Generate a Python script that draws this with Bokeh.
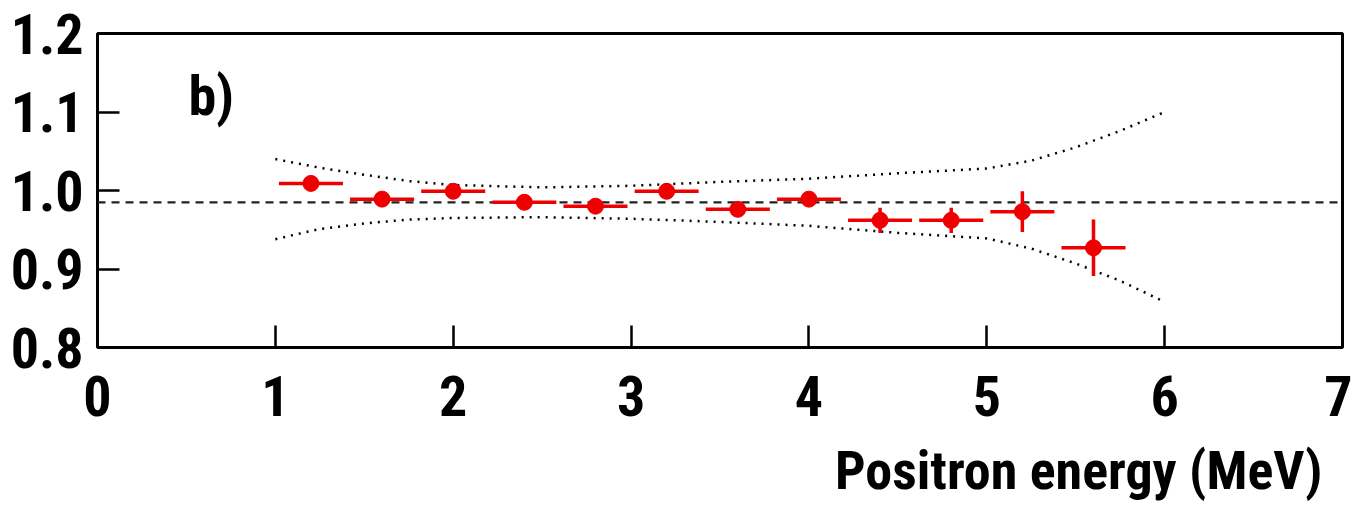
from bokeh.plotting import figure
from bokeh.models import Range1d, FixedTicker, PrintfTickFormatter, Label, Title
from bokeh.embed import file_html
from bokeh.resources import INLINE

# ---- data ----
energy = [1.2, 1.6, 2.0, 2.4, 2.8, 3.2, 3.6, 4.0, 4.4, 4.8, 5.2, 5.6]
ratio = [1.009, 0.989, 0.999, 0.985, 0.980, 0.999, 0.976, 0.989, 0.962, 0.962, 0.973, 0.927]
ratio_err = [0.006, 0.005, 0.005, 0.005, 0.006, 0.006, 0.007, 0.008, 0.016, 0.016, 0.026, 0.036]
bin_half = [0.18] * 12

band_x = [1.0, 1.25, 1.5, 1.75, 2.0, 2.5, 3.0, 3.5, 4.0, 4.5, 5.0, 5.25, 5.5, 5.75, 6.0]
band_upper = [1.040, 1.029, 1.020, 1.012, 1.007, 1.004, 1.006, 1.011, 1.015, 1.022, 1.028, 1.038, 1.055, 1.076, 1.100]
band_lower = [0.938, 0.951, 0.958, 0.963, 0.965, 0.966, 0.964, 0.960, 0.955, 0.946, 0.939, 0.926, 0.907, 0.885, 0.858]

ref_x = [0.0, 7.0]
ref_y = [0.985, 0.985]

x_ticks = [0, 1, 2, 3, 4, 5, 6, 7]
y_ticks = [0.8, 0.9, 1.0, 1.1, 1.2]
x_title = "Positron energy (MeV)"
panel_tag = "b)"

FONT = "Roboto Condensed"
RED = "#ee0000"

p = figure(width=1352, height=510, output_backend="svg", toolbar_location=None,
           x_range=Range1d(0, 7), y_range=Range1d(0.8, 1.2),
           frame_width=1245, frame_height=314,
           min_border_left=97, min_border_right=10, min_border_top=33, min_border_bottom=163)
p.grid.visible = False
p.background_fill_color = "white"
p.border_fill_color = "white"
p.outline_line_color = "black"
p.outline_line_width = 3

for ax in (p.xaxis[0], p.yaxis[0]):
    ax.axis_line_color = None
    ax.major_tick_out = 0
    ax.major_tick_in = 22
    ax.major_tick_line_width = 2.5
    ax.major_tick_line_color = "black"
    ax.minor_tick_line_color = None
    ax.major_label_text_font = FONT
    ax.major_label_text_font_style = "bold"
    ax.major_label_text_font_size = "56px"
    ax.major_label_text_color = "black"

p.xaxis.ticker = FixedTicker(ticks=x_ticks)
p.yaxis.ticker = FixedTicker(ticks=y_ticks)
p.yaxis.formatter = PrintfTickFormatter(format="%.1f")
p.xaxis.major_label_standoff = 28
p.yaxis.major_label_standoff = 14

# reference line and uncertainty band
p.line(ref_x, ref_y, line_color="#222222", line_width=2.2, line_dash="8 6")
p.line(band_x, band_upper, line_color="black", line_width=2.5, line_dash="2 6")
p.line(band_x, band_lower, line_color="black", line_width=2.5, line_dash="2 6")

# data with error bars
x0 = [e - h for e, h in zip(energy, bin_half)]
x1 = [e + h for e, h in zip(energy, bin_half)]
y0 = [r - s for r, s in zip(ratio, ratio_err)]
y1 = [r + s for r, s in zip(ratio, ratio_err)]
p.segment(x0=x0, y0=ratio, x1=x1, y1=ratio, line_color=RED, line_width=3.5)
p.segment(x0=energy, y0=y0, x1=energy, y1=y1, line_color=RED, line_width=3.5)
p.scatter(energy, ratio, size=16, fill_color=RED, line_color=RED, marker="circle")

p.add_layout(Label(x=0.511, y=1.121, text=panel_tag, text_font=FONT, text_font_style="bold",
                   text_font_size="56px", text_color="black", text_baseline="alphabetic"))
p.add_layout(Title(text=x_title, align="right", offset=20, standoff=36,
                   text_font=FONT, text_font_style="bold", text_font_size="54px",
                   text_color="black"), "below")

open("out.html", "w").write(file_html(p, INLINE))
